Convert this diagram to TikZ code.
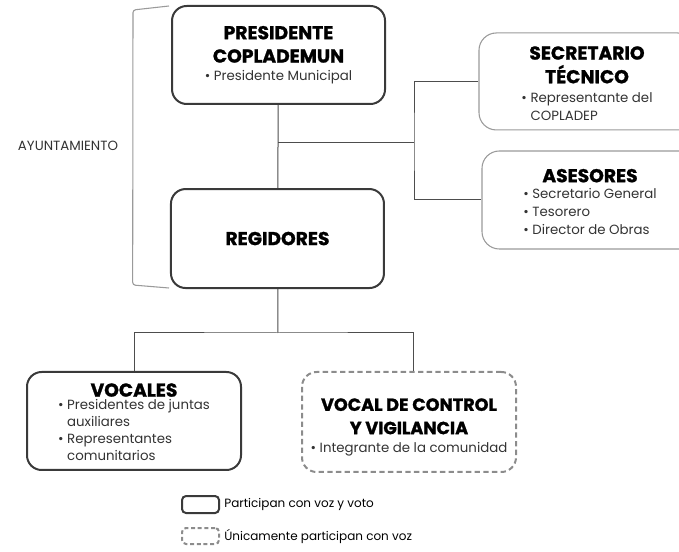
\documentclass[tikz,border=0pt]{standalone}
\usepackage{fontspec}
\setmainfont{Poppins}[BoldFeatures={FakeBold=1.2}]
\usetikzlibrary{positioning}
\definecolor{boxline}{HTML}{3A3A3A}
\definecolor{linkline}{HTML}{4D4D4D}
\definecolor{sideline}{HTML}{9A9A9A}
\definecolor{dashline}{HTML}{8C8C8C}
\definecolor{bodytext}{HTML}{333333}
\newcommand{\ttl}{\fontsize{14}{18}\selectfont\bfseries\color{black}}
\newcommand{\bodyf}{\fontsize{10}{13.5}\selectfont\color{bodytext}}
\newcommand{\bul}{\textbullet\ }

\begin{document}
\begin{tikzpicture}[x=1pt,y=-1pt]
\useasboundingbox (0,0) rectangle (509.25,414);
\clip (0,0) rectangle (509.25,414);
\tikzstyle{box1}=[rectangle, draw=boxline, line width=1.5pt, rounded corners=11pt,
    align=center, inner sep=0pt, font=\bodyf]
\tikzstyle{box2}=[rectangle, draw=sideline, line width=0.8pt, rounded corners=13pt,
    align=center, inner sep=0pt, font=\bodyf]
\tikzstyle{box3}=[rectangle, draw=dashline, line width=1.5pt, rounded corners=11pt,
    dash pattern=on 4pt off 2.5pt, align=center, inner sep=0pt, font=\bodyf]
\tikzstyle{link}=[draw=linkline, line width=0.75pt]

% ayuntamiento
\node[box1, minimum width = 159.75pt, minimum height = 73.5pt] (pres) at (208.9,41.25)
    {\ttl PRESIDENTE\\[4pt]\ttl COPLADEMUN\\\bodyf\bul Presidente Municipal};
\node[box1, minimum width = 159.75pt, minimum height = 74.25pt] (reg) at (208.1,178.9)
    {\ttl REGIDORES};

\draw[draw=sideline, line width=0.8pt, rounded corners=2pt]
    (126.75,4.5) -- (99.75,7.5) -- (99.5,213.75) -- (126.75,216);
\node[font=\fontsize{10}{12}\selectfont\color{bodytext}] (ayun) at (51,109.5) {AYUNTAMIENTO};

% apoyo
\node[box2, minimum width = 162pt, minimum height = 72.75pt] (sec) at (440.25,61.1)
    {\ttl SECRETARIO\\[3pt]\ttl TÉCNICO\\[4pt]\bodyf
    \begin{tabular}{@{}l@{}}\bul Representante del\\\phantom{\bul}COPLADEP\\[-7pt]\end{tabular}};
\node[box2, minimum width = 162pt, minimum height = 73.5pt] (ases) at (442.5,150)
    {\ttl ASESORES\\[1.5pt]\bodyf
    \begin{tabular}{@{}l@{}}\bul Secretario General\\\bul Tesorero\\\bul Director de Obras\\[-6.5pt]\end{tabular}};

% vocales
\node[box1, minimum width = 160.5pt, minimum height = 73.5pt] (voc) at (100.5,315.75)
    {\ttl VOCALES\\\fontsize{10}{12.6}\selectfont\color{bodytext}
    \begin{tabular}{@{}l@{}}\bul Presidentes de juntas\\\phantom{\bul}auxiliares\\
    \bul Representantes\\\phantom{\bul}comunitarios\\[-5pt]\end{tabular}};
\node[box3, minimum width = 160.5pt, minimum height = 75pt] (vcv) at (306.75,316.5)
    {\rule{0pt}{17pt}\ttl\fontsize{13.2}{18}\selectfont VOCAL DE CONTROL\\[4pt]\ttl\fontsize{13.2}{18}\selectfont Y VIGILANCIA\\\bodyf\bul Integrante de la comunidad};

\coordinate (j1) at (208.5,107.25);
\coordinate (j2) at (310.5,107.25);
\coordinate (j3) at (208.5,249.75);

\draw[link] (pres) -- (reg);
\draw[link] (j1) -- (j2);
\draw[link] (sec.west) -| (j2) |- (ases.west);
\draw[link] (reg) -- (j3);
\draw[link] (voc.north) |- (j3) -| ([xshift=3pt]vcv.north);

% leyenda
\node[rectangle, draw=boxline, line width=1.5pt, rounded corners=3pt,
    minimum width = 27.75pt, minimum height = 12.75pt] (leg1) at (150.4,378.4) {};
\node[rectangle, draw=dashline, line width=1.5pt, rounded corners=3pt,
    dash pattern=on 3pt off 2pt, minimum width = 27.75pt, minimum height = 12pt] (leg2) at (150.4,402) {};
\node[right=3pt of leg1, inner sep=0pt, font=\fontsize{9}{11}\selectfont] (txt1) {Participan con voz y voto};
\node[right=3pt of leg2, inner sep=0pt, font=\fontsize{9}{11}\selectfont] (txt2) {Únicamente participan con voz};
\end{tikzpicture}
\end{document}
